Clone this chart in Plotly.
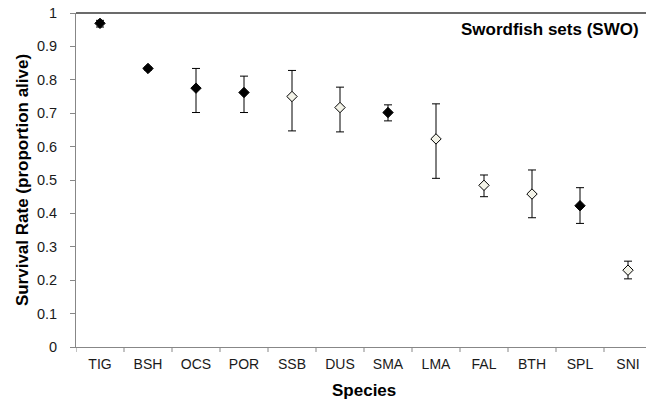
import plotly.graph_objects as go

species = ["TIG", "BSH", "OCS", "POR", "SSB", "DUS", "SMA", "LMA", "FAL", "BTH", "SPL", "SNI"]
survival = [0.969, 0.834, 0.775, 0.762, 0.750, 0.717, 0.702, 0.623, 0.484, 0.458, 0.423, 0.230]
upper = [0.978, 0.838, 0.834, 0.811, 0.828, 0.778, 0.725, 0.728, 0.515, 0.530, 0.477, 0.257]
lower = [0.958, 0.829, 0.702, 0.702, 0.647, 0.644, 0.677, 0.505, 0.450, 0.387, 0.370, 0.204]
filled = [True, True, True, True, False, False, True, False, False, False, True, False]
ytick_vals = [0, 0.1, 0.2, 0.3, 0.4, 0.5, 0.6, 0.7, 0.8, 0.9, 1.0]
ytick_text = ["0", "0.1", "0.2", "0.3", "0.4", "0.5", "0.6", "0.7", "0.8", "0.9", "1"]

x_idx = list(range(len(species)))
err_plus = [u - s for u, s in zip(upper, survival)]
err_minus = [s - l for s, l in zip(survival, lower)]
colors = ["#000000" if f else "#F3F3E8" for f in filled]

FONT = "Liberation Sans, Arial, sans-serif"

fig = go.Figure()
fig.add_trace(go.Scatter(
    x=x_idx, y=survival, mode="markers",
    marker=dict(symbol="diamond", size=8, color=colors, line=dict(color="#000000", width=1)),
    error_y=dict(type="data", symmetric=False, array=err_plus, arrayminus=err_minus,
                 color="#000000", thickness=1, width=4),
    showlegend=False,
))

fig.update_layout(
    width=646, height=401,
    margin=dict(l=76, r=0, t=13, b=54),
    paper_bgcolor="white", plot_bgcolor="white",
    font=dict(family=FONT, size=14, color="#1a1a1a"),
    xaxis=dict(
        range=[-0.5, 11.375],
        tickmode="array", tickvals=x_idx, ticktext=species,
        showgrid=False, zeroline=False,
        showline=True, linecolor="#878787", linewidth=1,
        ticks="", ticklabelstandoff=4,
        tickfont=dict(size=14, family=FONT, color="#1a1a1a"),
    ),
    yaxis=dict(
        range=[0, 1],
        tickmode="array", tickvals=ytick_vals, ticktext=ytick_text,
        showgrid=False, zeroline=False,
        showline=True, linecolor="#878787", linewidth=1,
        ticks="outside", ticklen=5, tickcolor="#878787", ticklabelstandoff=10,
        tickfont=dict(size=14.5, family=FONT, color="#1a1a1a"),
        title=dict(text="<b>Survival Rate (proportion alive)</b>", font=dict(size=17, family=FONT, color="#000000"), standoff=3),
    ),
)

# category boundary ticks on x axis
for i in range(len(species) + 1):
    fig.add_shape(type="line", xref="x", yref="paper", x0=i - 0.5, x1=i - 0.5, y0=0, y1=-0.015,
                  line=dict(color="#878787", width=1))

# top border
fig.add_shape(type="line", xref="paper", yref="paper", x0=0, x1=1, y0=1, y1=1,
              line=dict(color="#3a3a3a", width=1.5))

fig.add_annotation(text="<b>Species</b>", xref="x", yref="paper", x=5.5, y=-0.129,
                   yanchor="middle", showarrow=False, font=dict(size=17, family=FONT, color="#000000"))
fig.add_annotation(text="<b>Swordfish sets (SWO)</b>", xref="paper", yref="paper", x=0.991, y=0.952,
                   xanchor="right", yanchor="middle", showarrow=False, font=dict(size=17, family=FONT, color="#000000"))

fig.write_html("out.html", config={"displayModeBar": False},
               post_script="document.body.style.margin='0';document.body.style.overflow='hidden';")
